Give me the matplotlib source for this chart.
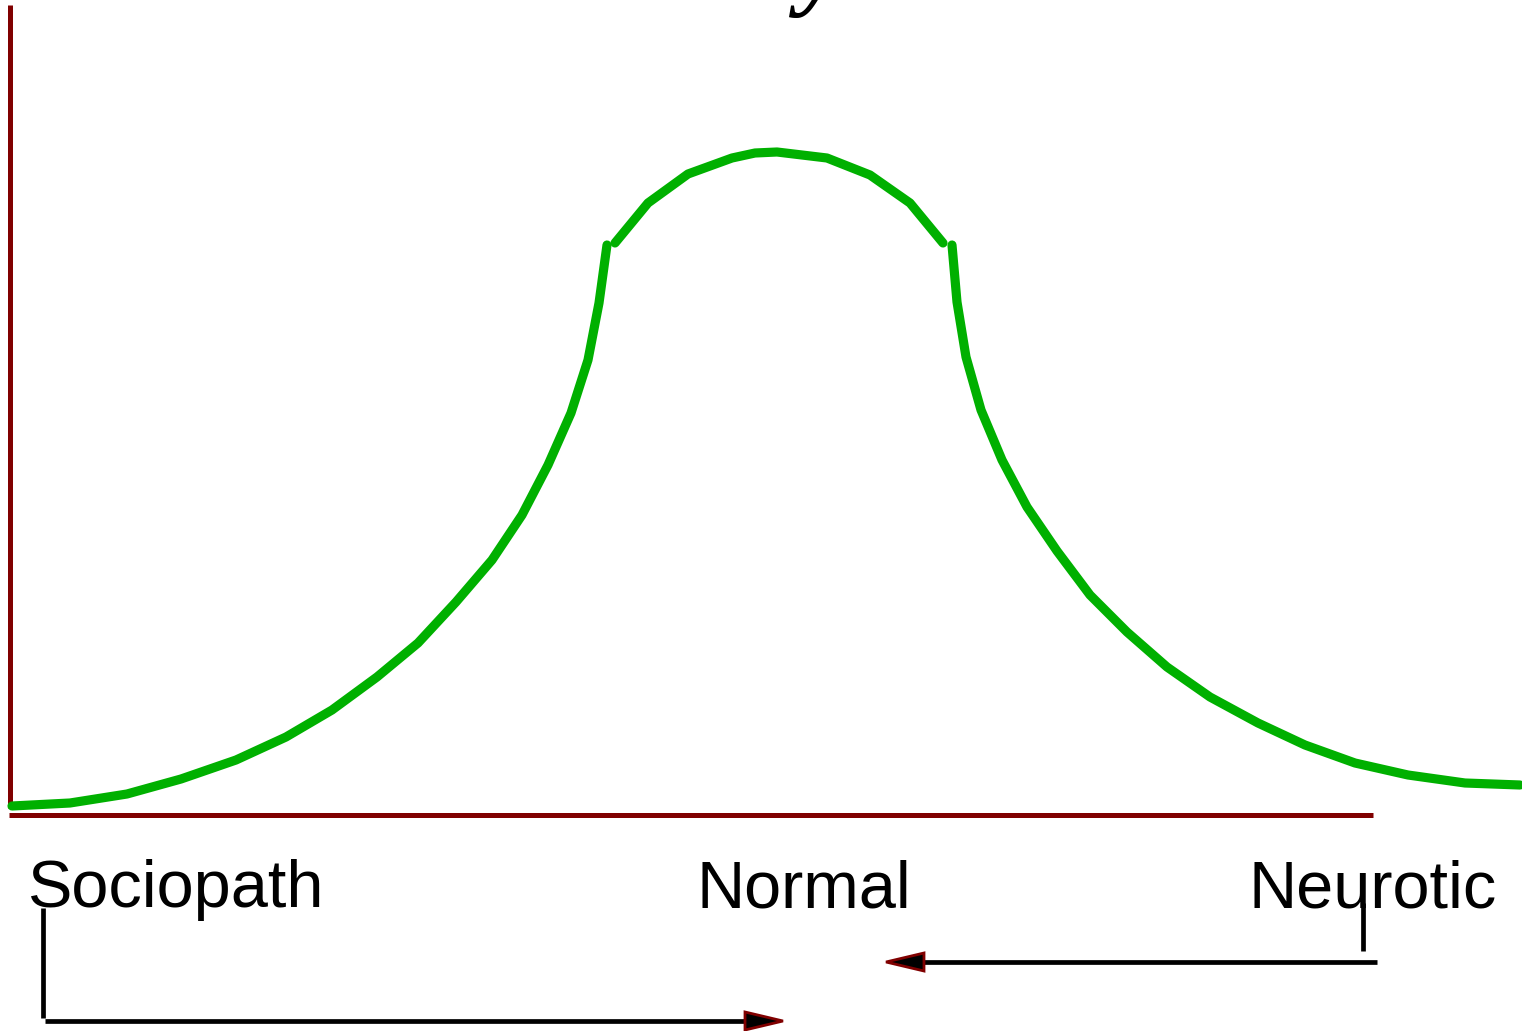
import matplotlib
matplotlib.use("Agg")
import matplotlib.pyplot as plt
from matplotlib.patches import Polygon

# ---- data (curve, in figure-pixel units) ----
left_x = [12, 70, 127, 181, 236, 286, 332, 377, 418, 456, 492, 522, 548, 571, 588, 599, 607]
left_y = [806, 803, 794, 779, 760, 737, 710, 677, 643, 602, 560, 515, 465, 413, 360, 303, 245]

top_x = [615, 648, 688, 732, 755, 777, 827, 870, 910, 943]
top_y = [243, 203, 174, 158, 153, 152, 158, 175, 203, 243]

right_x = [952, 957, 966, 981, 1002, 1027, 1057, 1090, 1127, 1167, 1210, 1258, 1305, 1355, 1408, 1465, 1520]
right_y = [245, 302, 357, 410, 460, 507, 551, 595, 632, 667, 697, 723, 745, 763, 775, 783, 785]

labels = ["Sociopath", "Normal", "Neurotic"]
label_x = [27, 697, 1248]
label_y = 907

GREEN = "#00b000"
AXRED = "#800000"

fig = plt.figure(figsize=(15.22, 10.31), dpi=100)
ax = fig.add_axes([0, 0, 1, 1])
ax.set_xlim(0, 1522)
ax.set_ylim(1031, 0)
ax.axis("off")

# axes lines
ax.plot([9.5, 9.5], [5, 808], color=AXRED, lw=3.6, solid_capstyle="butt")
ax.plot([9, 1373], [815, 815], color=AXRED, lw=3.6, solid_capstyle="butt")

# curve segments
for xs, ys in [(left_x, left_y), (top_x, top_y), (right_x, right_y)]:
    ax.plot(xs, ys, color=GREEN, lw=6.6, solid_capstyle="round", solid_joinstyle="round")

# labels
for t, x in zip(labels, label_x):
    ax.text(x, label_y, t, fontsize=48, family="Liberation Sans", ha="left", va="baseline", color="black")

# partially visible title glyph
ax.text(820, -3, "y", fontsize=72, family="Liberation Serif", style="italic", weight="bold",
        ha="center", va="baseline", color="black")

def arrow_head(tip_x, tip_y, direction, length=38, half=9):
    base_x = tip_x - direction * length
    pts = [(tip_x, tip_y), (base_x, tip_y - half), (base_x, tip_y + half)]
    ax.add_patch(Polygon(pts, closed=True, facecolor="black", edgecolor=AXRED, lw=2.0, zorder=5))

# bottom arrow (Sociopath -> Normal)
ax.plot([43, 43], [908, 1018], color="black", lw=3.4, solid_capstyle="butt")
ax.plot([45, 750], [1021, 1021], color="black", lw=3.4, solid_capstyle="butt")
arrow_head(783, 1021, +1)

# right arrow (Neurotic -> Normal)
ax.plot([1363, 1363], [903, 951], color="black", lw=3.4, solid_capstyle="butt")
ax.plot([1377, 920], [962, 962], color="black", lw=3.4, solid_capstyle="butt")
arrow_head(886, 962, -1)

fig.savefig("out.png", dpi=100)
